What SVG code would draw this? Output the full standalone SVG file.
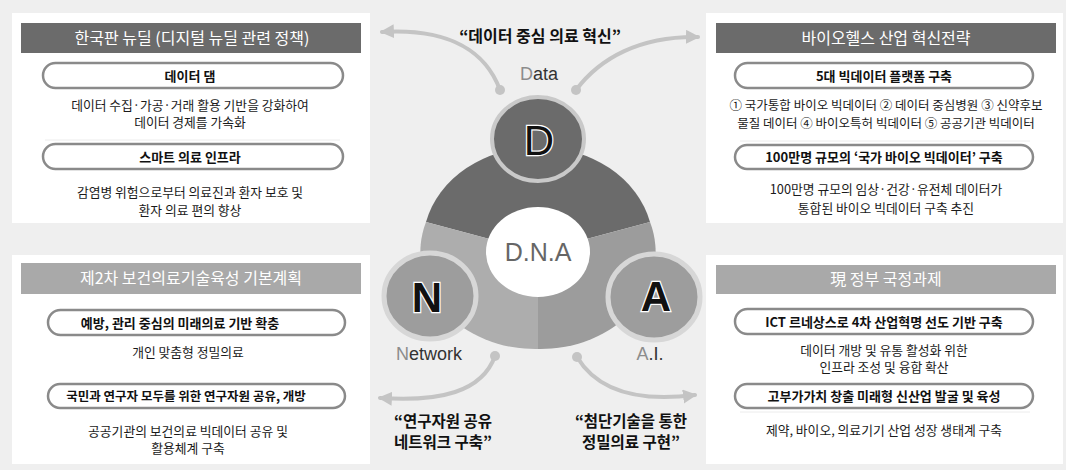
<svg xmlns="http://www.w3.org/2000/svg" width="1066" height="470" viewBox="0 0 1066 470">
<style>
.panel{fill:#ffffff}
.hdr1{fill:#6b6b6b}
.hdr2{fill:#a9a9a9}
.htxt{font-family:"Noto Sans CJK KR","Noto Sans",sans-serif;font-size:16px;fill:#ffffff;text-anchor:middle}
.pill{fill:#ffffff;stroke:#8a8a8a;stroke-width:2.5}
.ptxt{font-family:"Noto Sans CJK KR","Noto Sans",sans-serif;font-size:13px;font-weight:bold;fill:#111;text-anchor:middle}
.btxt{font-family:"Noto Sans CJK KR","Noto Sans",sans-serif;font-size:12.8px;fill:#1a1a1a;text-anchor:middle}
.sep{stroke:#ececec;stroke-width:1}
.quote{font-family:"Noto Sans CJK KR","Noto Sans",sans-serif;font-size:15.5px;font-weight:bold;fill:#111;text-anchor:middle}
.lbl{font-family:"Liberation Sans",Arial,sans-serif;font-size:18px;fill:#333;text-anchor:middle}
.lt{fill:#8c8c8c}
.big{font-family:"Liberation Sans",Arial,sans-serif;font-size:42px;font-weight:bold;fill:#111;stroke:#ffffff;stroke-width:2.5;paint-order:stroke fill;text-anchor:middle}
.arr{fill:none;stroke:#c4c4c4;stroke-width:4;stroke-linecap:round}
.dot{fill:#c4c4c4}
</style>
<defs>
<marker id="ah" markerUnits="userSpaceOnUse" markerWidth="16" markerHeight="16" refX="12" refY="7" orient="auto">
<path d="M0,0 L14,7 L0,14 Z" fill="#c4c4c4"/>
</marker>
</defs>
<rect x="0" y="0" width="1066" height="470" fill="#efefef"/>

<g id="panel-top-left">
<rect class="panel" x="12" y="13" width="358" height="210"/>
<rect class="hdr1" x="21" y="23" width="340" height="30"/>
<text class="htxt" x="192" y="44">한국판 뉴딜 (디지털 뉴딜 관련 정책)</text>
<rect class="pill" x="43" y="63" width="300" height="25" rx="12.5"/>
<text class="ptxt" x="190" y="80.5">데이터 댐</text>
<text class="btxt" x="190" y="109.5">데이터 수집·가공·거래 활용 기반을 강화하여</text>
<text class="btxt" x="190" y="127">데이터 경제를 가속화</text>
<line class="sep" x1="45" y1="140" x2="340" y2="140"/>
<rect class="pill" x="43" y="144" width="300" height="25" rx="12.5"/>
<text class="ptxt" x="190" y="161.5">스마트 의료 인프라</text>
<text class="btxt" x="190" y="196.5">감염병 위험으로부터 의료진과 환자 보호 및</text>
<text class="btxt" x="190" y="214.5">환자 의료 편의 향상</text>
</g>

<g id="panel-top-right">
<rect class="panel" x="706" y="13" width="357" height="210"/>
<rect class="hdr1" x="716" y="23" width="340" height="30"/>
<text class="htxt" x="886" y="44">바이오헬스 산업 혁신전략</text>
<rect class="pill" x="735" y="63" width="298" height="25" rx="12.5"/>
<text class="ptxt" x="884" y="80.5">5대 빅데이터 플랫폼 구축</text>
<text class="btxt" x="886" y="110" style="font-size:12.5px">① 국가통합 바이오 빅데이터 ② 데이터 중심병원 ③ 신약후보</text>
<text class="btxt" x="886" y="128" style="font-size:12.5px">물질 데이터 ④ 바이오특허 빅데이터 ⑤ 공공기관 빅데이터</text>
<line class="sep" x1="740" y1="141" x2="1030" y2="141"/>
<rect class="pill" x="735" y="145" width="298" height="24" rx="12"/>
<text class="ptxt" x="884" y="162">100만명 규모의 ‘국가 바이오 빅데이터’ 구축</text>
<text class="btxt" x="886" y="194">100만명 규모의 임상·건강·유전체 데이터가</text>
<text class="btxt" x="886" y="212.5">통합된 바이오 빅데이터 구축 추진</text>
</g>

<g id="panel-bottom-left">
<rect class="panel" x="12" y="255" width="358" height="209"/>
<rect class="hdr2" x="21" y="263" width="340" height="31"/>
<text class="htxt" x="191" y="284">제2차 보건의료기술육성 기본계획</text>
<rect class="pill" x="48" y="310" width="297" height="25" rx="12.5"/>
<text class="ptxt" x="180" y="327.5">예방, 관리 중심의 미래의료 기반 확충</text>
<text class="btxt" x="188" y="356.5">개인 맞춤형 정밀의료</text>
<rect class="pill" x="48" y="384" width="297" height="24" rx="12"/>
<text class="ptxt" x="186" y="401" style="font-size:12.5px">국민과 연구자 모두를 위한 연구자원 공유, 개방</text>
<text class="btxt" x="188" y="435.5">공공기관의 보건의료 빅데이터 공유 및</text>
<text class="btxt" x="188" y="453">활용체계 구축</text>
</g>

<g id="panel-bottom-right">
<rect class="panel" x="706" y="255" width="357" height="209"/>
<rect class="hdr2" x="716" y="265" width="340" height="29"/>
<text class="htxt" x="886" y="285">現 정부 국정과제</text>
<rect class="pill" x="735" y="309" width="298" height="25" rx="12.5"/>
<text class="ptxt" x="884" y="326.5">ICT 르네상스로 4차 산업혁명 선도 기반 구축</text>
<text class="btxt" x="884" y="354.5">데이터 개방 및 유통 활성화 위한</text>
<text class="btxt" x="884" y="372">인프라 조성 및 융합 확산</text>
<rect class="pill" x="735" y="384" width="298" height="24" rx="12"/>
<text class="ptxt" x="884" y="401">고부가가치 창출 미래형 신산업 발굴 및 육성</text>
<line class="sep" x1="740" y1="412" x2="1030" y2="412"/>
<text class="btxt" x="884" y="434.5">제약, 바이오, 의료기기 산업 성장 생태계 구축</text>
</g>

<g id="connectors">
<path class="arr" d="M500,90 C486,52 450,28 382,32" marker-end="url(#ah)"/>
<circle class="dot" cx="500" cy="90" r="5"/>
<path class="arr" d="M576,90 C600,58 640,36 698,37" marker-end="url(#ah)"/>
<circle class="dot" cx="576" cy="90" r="5"/>
<path class="arr" d="M495,356 C482,392 440,402 380,398" marker-end="url(#ah)"/>
<circle class="dot" cx="495" cy="356" r="5"/>
<path class="arr" d="M577,357 C598,392 640,402 695,395" marker-end="url(#ah)"/>
<circle class="dot" cx="577" cy="357" r="5"/>
</g>

<g id="dna-ring">
<path d="M538,252 L426,222 A115,97 0 0,1 650,222 Z" fill="#6b6b6b"/>
<path d="M538,252 L650,222 A115,97 0 0,1 538,349 Z" fill="#9c9c9c"/>
<path d="M538,252 L538,349 A115,97 0 0,1 426,222 Z" fill="#adadad"/>
<ellipse cx="538" cy="252" rx="52" ry="45" fill="#ffffff"/>
<text x="538" y="261" font-family="'Liberation Sans',Arial,sans-serif" font-size="25" fill="#666" text-anchor="middle">D.N.A</text>
</g>

<g id="node-d">
<ellipse cx="538" cy="139" rx="46" ry="42" fill="#6b6b6b" stroke="#c9c9c9" stroke-width="4"/>
<text class="big" x="539" y="155" style="font-weight:normal">D</text>
<text class="lbl" x="539" y="80"><tspan class="lt">D</tspan>ata</text>
<text class="quote" x="540" y="42" style="font-size:16px">“데이터 중심 의료 혁신”</text>
</g>

<g id="node-n">
<ellipse cx="430" cy="296" rx="46" ry="43" fill="#9d9d9d" stroke="#d7d7d7" stroke-width="5"/>
<text class="big" x="427" y="312">N</text>
<text class="lbl" x="429" y="360"><tspan class="lt">N</tspan>etwork</text>
<text class="quote" x="443" y="427">“연구자원 공유</text>
<text class="quote" x="443" y="448">네트워크 구축”</text>
</g>

<g id="node-a">
<ellipse cx="654" cy="297" rx="46" ry="43" fill="#9d9d9d" stroke="#d7d7d7" stroke-width="5"/>
<text class="big" x="656" y="311">A</text>
<text class="lbl" x="650" y="360"><tspan class="lt">A</tspan>.I.</text>
<text class="quote" x="631" y="427">“첨단기술을 통한</text>
<text class="quote" x="631" y="448">정밀의료 구현”</text>
</g>
</svg>
